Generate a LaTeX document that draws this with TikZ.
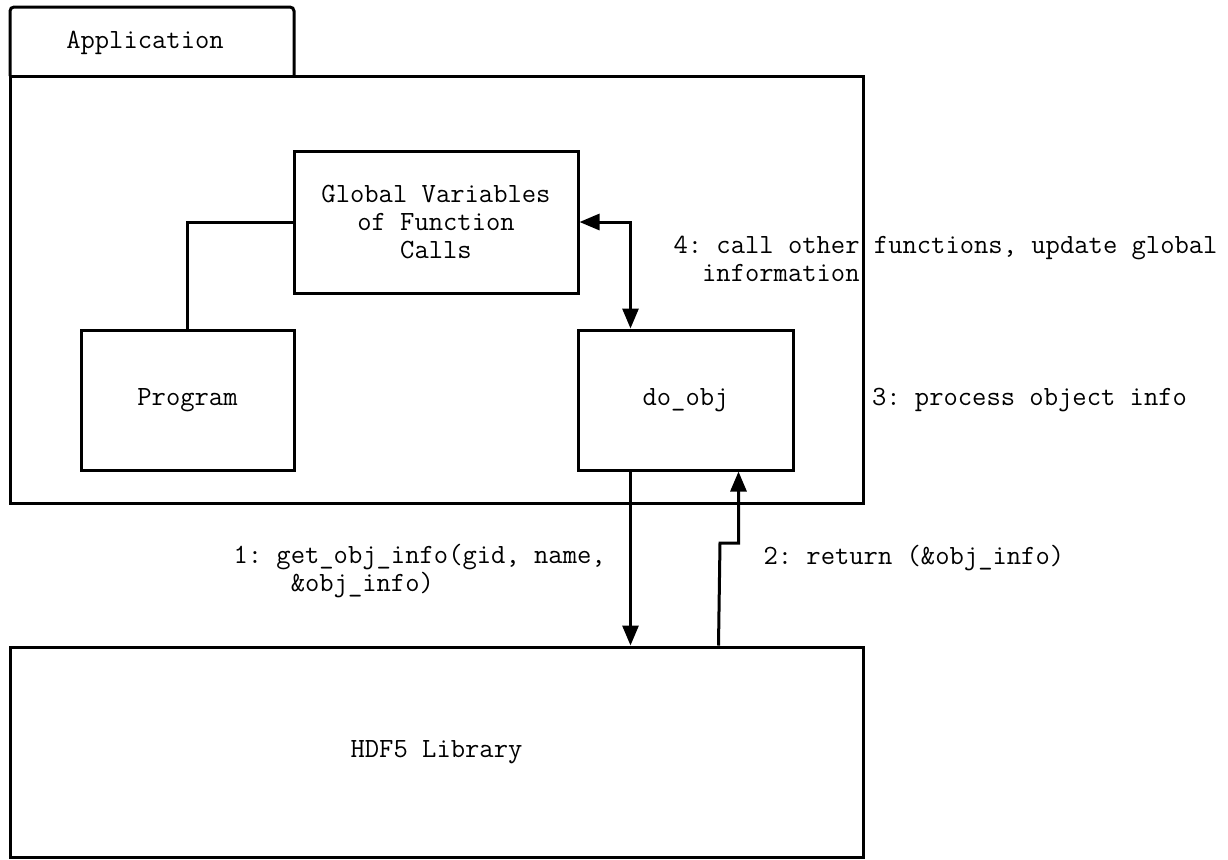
\documentclass[tikz,border=0pt]{standalone}
\usepackage{fontspec}
\usetikzlibrary{arrows.meta,positioning}

\begin{document}
\begin{tikzpicture}[x=0.5pt, y=-0.5pt, line width=1.5pt,
  box/.style={draw, rectangle, inner sep=0pt, align=center},
  tip/.style={-{Triangle[length=10pt,width=8pt]}},
  tiptwo/.style={{Triangle[length=10pt,width=8pt]}-{Triangle[length=10pt,width=8pt]}},
  lbl/.style={anchor=west, align=left, inner sep=0pt}]
\useasboundingbox (0,0) rectangle (1228,859);
\fontsize{13.9pt}{14pt}\ttfamily\frenchspacing

% application package with its tab
\draw[rounded corners=2pt] (10,76) -- (10,7) -- (294,7) -- (294,76);
\node (apptab) at (145,43) {Application};
\node[box, minimum width=426.5pt, minimum height=213.5pt] (app) at (436.5,289.5) {};

\node[box, minimum width=142pt, minimum height=71pt] (glob) at (436,222)
  {Global Variables\\of Function\\Calls};
\node[box, minimum width=106.5pt, minimum height=70pt] (prog) at (187.5,400) {Program};
\node[box, minimum width=107.5pt, minimum height=70pt] (doobj) at (685.5,400) {do\_obj};

\node[box, minimum width=426.5pt, minimum height=105pt] (hdf) at (436.5,752) {HDF5 Library};

% connectors
\coordinate (upd) at ([xshift=27pt]doobj.north west);
\coordinate (call0) at ([xshift=27pt]doobj.south west);
\coordinate (call1) at (call0 |- hdf.north);
\coordinate (ret0) at ([xshift=355pt]hdf.north west);
\coordinate (ret1) at ([xshift=81pt]doobj.south west);
\coordinate (bend) at (720,543);

\draw (prog.north) |- (glob.west);
\draw[tiptwo] (glob.east) -| (upd);
\draw[tip] (call0) -- (call1);
\draw[tip] (ret0) -- (bend) -| (ret1);

% labels
\node[lbl] (lblupd) at (672,259) {4: call other functions, update global\\\hphantom{4:}information};
\node[lbl, right=38pt of doobj] (lblproc) {3: process object info};
\node[lbl] (lblcall) at (232,571) {1: get\_obj\_info(gid, name,\\\hphantom{1: g}\&obj\_info)};
\node[lbl] (lblret) at (762,558) {2: return (\&obj\_info)};
\end{tikzpicture}
\end{document}
